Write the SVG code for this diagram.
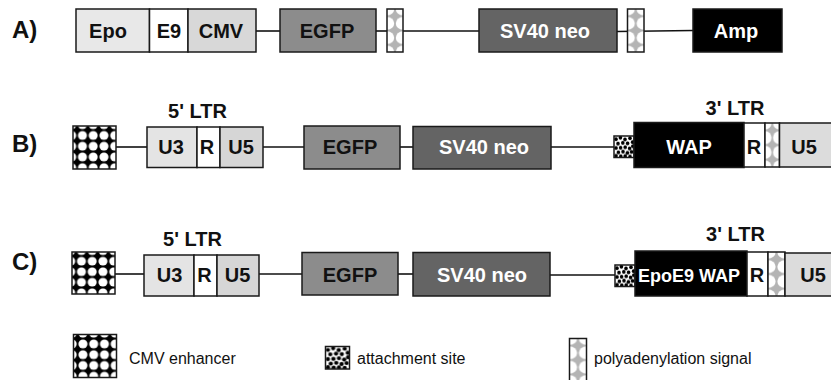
<svg xmlns="http://www.w3.org/2000/svg" width="831" height="380" viewBox="0 0 831 380">
<style>
  .bx { stroke: #1a1a1a; stroke-width: 1.5; }
  .lbl { font-family: "Liberation Sans", Arial, sans-serif; font-weight: bold; font-size: 20px; text-anchor: middle; fill: #111; }
  .wl { fill: #fff; }
  .row { font-family: "Liberation Sans", Arial, sans-serif; font-weight: bold; font-size: 24px; fill: #111; }
  .ltr { font-family: "Liberation Sans", Arial, sans-serif; font-weight: bold; font-size: 20px; text-anchor: middle; fill: #111; }
  .leg { font-family: "Liberation Sans", Arial, sans-serif; font-size: 16px; fill: #111; }
  .ln { stroke: #111; stroke-width: 1.6; fill: none; }
</style>
<defs>
  <pattern id="pcmv" patternUnits="objectBoundingBox" x="-0.03" y="-0.03" width="0.25" height="0.25" viewBox="0 0 10 10" preserveAspectRatio="none">
    <rect width="10" height="10" fill="#000"/>
    <circle cx="0" cy="0" r="4.2" fill="#fff"/>
    <circle cx="10" cy="0" r="4.2" fill="#fff"/>
    <circle cx="0" cy="10" r="4.2" fill="#fff"/>
    <circle cx="10" cy="10" r="4.2" fill="#fff"/>
  </pattern>
  <pattern id="ppa" patternUnits="objectBoundingBox" width="1" height="0.3334" viewBox="0 0 10 10" preserveAspectRatio="none">
    <rect width="10" height="10" fill="#b4b4b4"/>
    <circle cx="0" cy="0" r="4.5" fill="#fff"/>
    <circle cx="10" cy="0" r="4.5" fill="#fff"/>
    <circle cx="0" cy="10" r="4.5" fill="#fff"/>
    <circle cx="10" cy="10" r="4.5" fill="#fff"/>
  </pattern>
  <pattern id="patt" patternUnits="objectBoundingBox" width="1" height="1" viewBox="0 0 10 10" preserveAspectRatio="none">
    <rect width="10" height="10" fill="#fff"/>
    <g fill="#000">
      <circle cx="1" cy="1.5" r="0.9"/><circle cx="3.2" cy="0.8" r="0.9"/><circle cx="5.5" cy="1.6" r="0.9"/><circle cx="8" cy="1" r="0.9"/>
      <circle cx="9.3" cy="2.8" r="0.9"/><circle cx="2" cy="3.5" r="0.9"/><circle cx="4.4" cy="3.2" r="0.9"/><circle cx="6.8" cy="3.4" r="0.9"/>
      <circle cx="1" cy="5.6" r="0.9"/><circle cx="3.3" cy="5.5" r="0.9"/><circle cx="5.6" cy="5.2" r="0.9"/><circle cx="7.8" cy="5.8" r="0.9"/>
      <circle cx="9.4" cy="4.8" r="0.9"/><circle cx="2.2" cy="7.6" r="0.9"/><circle cx="4.5" cy="7.3" r="0.9"/><circle cx="6.7" cy="7.8" r="0.9"/>
      <circle cx="8.8" cy="7.4" r="0.9"/><circle cx="1" cy="9.2" r="0.9"/><circle cx="3.4" cy="9.4" r="0.9"/><circle cx="5.6" cy="9.3" r="0.9"/>
      <circle cx="8" cy="9.5" r="0.9"/>
    </g>
  </pattern>
</defs>
<rect width="831" height="380" fill="#fff"/>

<!-- Row labels -->
<text class="row" x="12" y="38">A)</text>
<text class="row" x="12" y="152">B)</text>
<text class="row" x="12" y="270">C)</text>

<!-- connectors -->
<g id="connectors">
  <line class="ln" x1="256" y1="31" x2="280" y2="31"/>
  <line class="ln" x1="376" y1="31" x2="387" y2="31"/>
  <line class="ln" x1="403" y1="31" x2="479" y2="31"/>
  <line class="ln" x1="617" y1="31.5" x2="693" y2="30.5"/>
  <line class="ln" x1="116" y1="147" x2="147" y2="147"/>
  <line class="ln" x1="263" y1="147" x2="304" y2="147"/>
  <line class="ln" x1="400" y1="147" x2="413" y2="147"/>
  <line class="ln" x1="551" y1="147" x2="614" y2="147"/>
  <line class="ln" x1="115" y1="274" x2="144" y2="274"/>
  <line class="ln" x1="259" y1="274" x2="302" y2="274"/>
  <line class="ln" x1="398" y1="274" x2="413" y2="274"/>
  <line class="ln" x1="550" y1="275" x2="615" y2="275"/>
</g>

<!-- Row A -->
<g id="a-epo"><rect class="bx" x="76" y="9" width="73.5" height="43" fill="#e8e8e8"/><text class="lbl" x="108" y="38">Epo</text></g>
<g id="a-e9"><rect class="bx" x="149.5" y="9" width="38.5" height="43" fill="#fff"/><text class="lbl" x="169" y="38">E9</text></g>
<g id="a-cmv"><rect class="bx" x="188" y="9" width="68" height="43" fill="#d8d8d8"/><text class="lbl" x="221" y="38">CMV</text></g>
<g id="a-egfp"><rect class="bx" x="280" y="9" width="96" height="43" fill="#8c8c8c"/><text class="lbl" x="327" y="38">EGFP</text></g>
<g id="a-pa1"><rect class="bx" x="387" y="9" width="16" height="43" fill="url(#ppa)"/></g>
<g id="a-sv40"><rect class="bx" x="479" y="9" width="138" height="43" fill="#646464"/><text class="lbl wl" x="545" y="38">SV40 neo</text></g>
<g id="a-pa2"><rect class="bx" x="627.5" y="9" width="16.5" height="43" fill="url(#ppa)"/></g>
<g id="a-amp"><rect class="bx" x="693" y="9" width="89" height="43" fill="#000"/><text class="lbl wl" x="736" y="38">Amp</text></g>

<!-- Row B -->
<text class="ltr" x="197.5" y="118">5' LTR</text>
<text class="ltr" x="735" y="115">3' LTR</text>
<g id="b-enh"><rect class="bx" x="73" y="126" width="43" height="43" fill="url(#pcmv)"/></g>
<g id="b-u3"><rect class="bx" x="147" y="127" width="50" height="40.5" fill="#e4e4e4"/><text class="lbl" x="171" y="154">U3</text></g>
<g id="b-r1"><rect class="bx" x="197" y="127" width="23" height="40.5" fill="#fff"/><text class="lbl" x="207" y="154">R</text></g>
<g id="b-u5a"><rect class="bx" x="220" y="127" width="43" height="40.5" fill="#d6d6d6"/><text class="lbl" x="241" y="154">U5</text></g>
<g id="b-egfp"><rect class="bx" x="304" y="126" width="96" height="43" fill="#8c8c8c"/><text class="lbl" x="350" y="154">EGFP</text></g>
<g id="b-sv40"><rect class="bx" x="413" y="126.5" width="138" height="42.5" fill="#646464"/><text class="lbl wl" x="484" y="154">SV40 neo</text></g>
<g id="b-att"><rect class="bx" x="614" y="136" width="20" height="21.5" fill="url(#patt)"/></g>
<g id="b-wap"><rect class="bx" x="634" y="122.5" width="110" height="45" fill="#000"/><text class="lbl wl" x="689" y="154">WAP</text></g>
<g id="b-r2"><rect class="bx" x="744" y="123" width="21" height="44" fill="#fff"/><text class="lbl" x="754" y="154">R</text></g>
<g id="b-pa"><rect class="bx" x="765" y="123" width="14.5" height="44" fill="url(#ppa)"/></g>
<g id="b-u5b"><rect class="bx" x="779.5" y="123" width="60" height="44" fill="#dcdcdc"/><text class="lbl" x="804" y="154">U5</text></g>

<!-- Row C -->
<text class="ltr" x="192.5" y="246">5' LTR</text>
<text class="ltr" x="735.5" y="240.5">3' LTR</text>
<g id="c-enh"><rect class="bx" x="72" y="252" width="43" height="42" fill="url(#pcmv)"/></g>
<g id="c-u3"><rect class="bx" x="144" y="255" width="50" height="41" fill="#e4e4e4"/><text class="lbl" x="169.5" y="282">U3</text></g>
<g id="c-r1"><rect class="bx" x="194" y="255" width="23" height="41" fill="#fff"/><text class="lbl" x="204.5" y="282">R</text></g>
<g id="c-u5a"><rect class="bx" x="217" y="255" width="42" height="41" fill="#d6d6d6"/><text class="lbl" x="237.5" y="282">U5</text></g>
<g id="c-egfp"><rect class="bx" x="302" y="252.5" width="96" height="42.5" fill="#8c8c8c"/><text class="lbl" x="350" y="282">EGFP</text></g>
<g id="c-sv40"><rect class="bx" x="413" y="252.5" width="137" height="43.5" fill="#646464"/><text class="lbl wl" x="482" y="282">SV40 neo</text></g>
<g id="c-att"><rect class="bx" x="615" y="265" width="20" height="21.5" fill="url(#patt)"/></g>
<g id="c-wap"><rect class="bx" x="635" y="251" width="112" height="45" fill="#000"/><text class="lbl wl" x="689" y="282" style="font-size:18px">EpoE9 WAP</text></g>
<g id="c-r2"><rect class="bx" x="747" y="252" width="21" height="44" fill="#fff"/><text class="lbl" x="757" y="282">R</text></g>
<g id="c-pa"><rect class="bx" x="768" y="252" width="17" height="44" fill="url(#ppa)"/></g>
<g id="c-u5b"><rect class="bx" x="785" y="253" width="55" height="43" fill="#dcdcdc"/><text class="lbl" x="813" y="282">U5</text></g>

<!-- Legend -->
<g id="leg-cmv"><rect class="bx" x="73.5" y="334.5" width="43" height="43" fill="url(#pcmv)"/><text class="leg" x="129" y="364">CMV enhancer</text></g>
<g id="leg-att"><rect class="bx" x="325.5" y="346.5" width="24" height="22.5" fill="url(#patt)"/><text class="leg" x="357" y="364">attachment site</text></g>
<g id="leg-pa"><rect class="bx" x="569.5" y="338.5" width="17" height="43" fill="url(#ppa)"/><text class="leg" x="594" y="364">polyadenylation signal</text></g>
</svg>
